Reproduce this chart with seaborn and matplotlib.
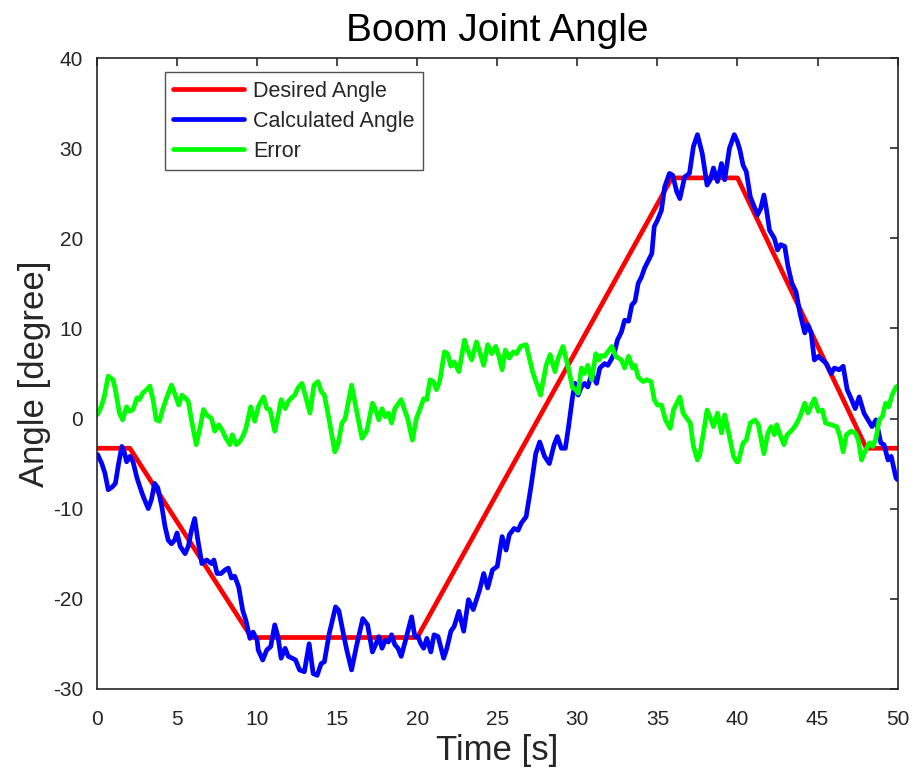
import numpy as np
import pandas as pd
import matplotlib
matplotlib.use("Agg")
import matplotlib.pyplot as plt
import seaborn as sns

# Reference trajectory (piecewise linear vertices)
desired_t = [0.0, 2.05, 9.65, 20.0, 35.9, 40.0, 48.05, 50.0]
desired_v = [-3.3, -3.3, -24.3, -24.3, 26.7, 26.7, -3.3, -3.3]

# Calculated joint angle
calc_t = [0.0, 0.04, 0.3, 0.5, 0.7, 0.95, 1.15, 1.35, 1.55, 1.7, 1.85, 2.06, 2.25, 2.5, 2.7, 2.9,
          3.2, 3.4, 3.6, 3.8, 4.05, 4.25, 4.45, 4.65, 4.85, 5.0, 5.2, 5.5, 5.7, 5.9, 6.1, 6.3,
          6.55, 6.85, 7.15, 7.3, 7.5, 7.75, 8.0, 8.2, 8.4, 8.6, 8.85, 9.1, 9.3, 9.55, 9.75, 10.0,
          10.07, 10.35, 10.6, 10.85, 11.1, 11.3, 11.5, 11.75, 11.95, 12.2, 12.4, 12.65, 12.95, 13.25,
          13.5, 13.75, 14.0, 14.2, 14.5, 14.9, 15.1, 15.4, 15.6, 15.9, 16.2, 16.6, 16.9, 17.2, 17.4,
          17.6, 17.8, 18.0, 18.2, 18.4, 18.6, 18.8, 19.0, 19.3, 19.65, 19.85, 20.05, 20.2, 20.4, 20.6,
          20.85, 21.05, 21.3, 21.65, 21.85, 22.1, 22.3, 22.6, 22.9, 23.2, 23.5, 23.9, 24.15, 24.4,
          24.7, 25.0, 25.3, 25.55, 25.75, 26.05, 26.3, 26.5, 26.8, 27.1, 27.4, 27.65, 27.95, 28.25,
          28.55, 28.75, 29.0, 29.25, 29.45, 29.7, 29.85, 30.05, 30.25, 30.45, 30.65, 30.9, 31.2,
          31.4, 31.7, 31.9, 32.1, 32.3, 32.5, 32.75, 32.95, 33.2, 33.4, 33.6, 33.8, 34.0, 34.2,
          34.45, 34.65, 34.8, 35.0, 35.25, 35.45, 35.75, 35.95, 36.2, 36.4, 36.7, 37.0, 37.25,
          37.5, 37.8, 38.1, 38.3, 38.5, 38.75, 39.0, 39.2, 39.5, 39.8, 40.0, 40.15, 40.35, 40.55,
          40.8, 41.0, 41.25, 41.45, 41.65, 41.8, 42.0, 42.3, 42.5, 42.7, 42.95, 43.15, 43.4, 43.65,
          43.9, 44.2, 44.4, 44.6, 44.8, 45.05, 45.3, 45.55, 45.85, 46.05, 46.35, 46.6, 46.85, 47.1,
          47.35, 47.6, 47.9, 48.15, 48.4, 48.65, 48.95, 49.15, 49.4, 49.6, 49.9, 50.0]
calc_v = [-4.2, -4.0, -5.0, -6.1, -7.9, -7.6, -7.2, -5.0, -3.1, -3.7, -4.8, -4.2, -4.8, -6.6, -7.7, -8.7,
          -10.0, -9.0, -7.2, -7.7, -9.8, -12.0, -13.5, -13.9, -13.5, -12.7, -14.2, -15.0, -14.2, -12.4, -11.1, -13.5,
          -16.1, -15.7, -16.1, -15.7, -17.2, -17.2, -16.8, -16.6, -17.7, -17.5, -18.7, -21.3, -22.4, -24.4, -23.7, -24.6,
          -25.7, -26.8, -25.7, -25.3, -22.9, -24.2, -26.6, -25.5, -26.4, -26.6, -26.8, -27.9, -28.1, -25.0,
          -28.3, -28.5, -27.2, -27.0, -23.9, -20.9, -21.3, -24.0, -25.7, -27.9, -25.3, -22.2, -22.9, -25.9, -25.1,
          -24.2, -25.5, -24.6, -24.8, -24.0, -25.1, -25.5, -26.4, -24.4, -22.0, -24.2, -24.2, -24.9, -25.5, -24.4,
          -25.9, -24.0, -24.2, -26.6, -25.5, -23.6, -23.1, -21.4, -23.6, -20.1, -21.2, -19.0, -17.2, -18.8,
          -16.8, -16.4, -13.1, -14.6, -12.9, -12.2, -12.4, -11.6, -10.9, -7.6, -3.9, -2.6, -4.2, -5.0,
          -2.9, -2.0, -3.3, -3.3, -0.9, 2.4, 3.9, 2.6, 3.5, 3.9, 3.5, 5.0, 3.9,
          5.6, 6.1, 5.9, 6.5, 7.2, 8.7, 9.6, 10.9, 10.8, 12.6, 13.0, 15.0, 15.7, 16.7,
          17.6, 18.3, 21.3, 22.0, 23.1, 25.7, 27.2, 27.0, 25.2, 24.4, 26.8, 27.2, 30.2,
          31.5, 29.4, 25.9, 26.5, 27.8, 26.3, 28.3, 26.5, 30.0, 31.5, 30.7, 29.8, 28.1, 27.4,
          24.6, 23.7, 22.6, 23.3, 24.8, 23.3, 20.9, 20.0, 18.7, 19.3, 19.1, 16.9, 15.0, 14.1,
          11.7, 9.5, 10.4, 9.5, 6.5, 6.9, 6.5, 6.1, 5.0, 5.6, 5.4, 5.8, 3.2, 2.2,
          1.1, 2.4, 0.6, -0.15, -0.9, -0.15, -2.7, -2.9, -4.6, -4.2, -6.6, -6.8]

# Tracking error
err_t = [0.0, 0.08, 0.3, 0.45, 0.7, 1.0, 1.15, 1.4, 1.6, 1.85, 2.05, 2.25, 2.5, 2.65, 2.85, 3.1,
         3.3, 3.5, 3.7, 3.9, 4.1, 4.35, 4.65, 4.85, 5.1, 5.3, 5.5, 5.7, 5.9, 6.2, 6.45, 6.65,
         6.85, 7.15, 7.35, 7.6, 7.85, 8.05, 8.3, 8.45, 8.7, 8.9, 9.1, 9.3, 9.6, 9.85, 10.07,
         10.4, 10.6, 10.8, 11.1, 11.3, 11.5, 11.75, 11.95, 12.15, 12.35, 12.55, 12.8, 13.0, 13.3,
         13.55, 13.8, 14.0, 14.2, 14.5, 14.85, 15.05, 15.3, 15.5, 15.9, 16.2, 16.55, 16.85, 17.2,
         17.4, 17.6, 17.8, 18.0, 18.2, 18.4, 18.6, 19.0, 19.2, 19.4, 19.7, 19.95, 20.15, 20.4,
         20.6, 20.8, 21.0, 21.2, 21.4, 21.7, 21.9, 22.1, 22.3, 22.6, 22.75, 22.95, 23.15, 23.4,
         23.7, 23.9, 24.15, 24.4, 24.65, 24.9, 25.1, 25.3, 25.5, 25.75, 26.0, 26.2, 26.45, 26.8,
         27.2, 27.7, 28.05, 28.3, 28.6, 28.8, 29.1, 29.4, 29.7, 29.85, 30.05, 30.25, 30.45, 30.65,
         30.9, 31.15, 31.35, 31.5, 31.7, 31.9, 32.15, 32.4, 32.75, 32.95, 33.2, 33.45, 33.6, 33.8,
         34.1, 34.35, 34.6, 34.8, 35.0, 35.25, 35.5, 35.8, 36.0, 36.4, 36.6, 36.85, 37.05, 37.25,
         37.5, 37.65, 37.9, 38.1, 38.35, 38.5, 38.75, 39.0, 39.2, 39.5, 39.75, 39.95, 40.05, 40.35,
         40.55, 40.8, 41.1, 41.3, 41.65, 41.9, 42.1, 42.3, 42.45, 42.7, 42.9, 43.1, 43.4, 43.65,
         43.9, 44.2, 44.4, 44.8, 45.05, 45.3, 45.5, 45.85, 46.2, 46.4, 46.6, 46.8, 47.1, 47.35,
         47.55, 47.75, 47.95, 48.25, 48.45, 48.65, 48.85, 49.05, 49.25, 49.45, 49.65, 49.9, 50.0]
err_v = [0.4, 0.6, 1.5, 2.4, 4.7, 4.3, 3.2, 0.6, -0.15, 1.3, 0.8, 1.0, 2.3, 2.1, 2.8, 3.2,
         3.6, 2.1, -0.15, -0.3, 1.0, 2.3, 3.7, 2.8, 1.5, 2.6, 2.3, 1.9, -0.15, -2.9, -0.9, 1.0,
         0.4, 0.0, -1.4, -0.7, -1.4, -2.2, -2.9, -1.8, -2.9, -2.6, -2.0, -1.1, 1.3, -0.3, 1.3,
         2.4, 1.1, 1.0, -1.4, 0.2, 2.1, 1.1, 1.9, 2.3, 2.6, 3.4, 3.9, 2.6, 0.6,
         3.7, 4.1, 3.0, 2.6, -0.15, -3.7, -2.9, -0.5, 0.0, 3.7, 1.0, -2.2, -1.4, 1.7,
         1.0, -0.15, 1.1, 0.2, 0.6, -0.5, 1.1, 2.1, 1.0, 0.0, -2.4, 0.0, 0.95, 2.2,
         2.1, 4.3, 4.1, 3.2, 4.1, 7.4, 7.2, 5.8, 6.3, 5.2, 6.7, 8.7, 7.6, 6.5,
         8.5, 7.4, 5.9, 8.2, 7.2, 8.0, 6.9, 5.4, 7.6, 6.7, 7.4, 7.2, 8.0, 8.2,
         5.2, 2.6, 5.9, 7.1, 5.2, 6.7, 8.0, 5.9, 3.4, 3.3, 2.8, 5.6, 5.0, 5.9,
         4.3, 7.2, 6.5, 7.0, 6.9, 7.4, 8.0, 6.9, 6.5, 5.6, 6.9, 5.6, 5.9, 4.6,
         4.1, 4.3, 4.1, 2.1, 1.5, 1.5, -0.15, -1.1, 0.95, 2.4, 0.6, 0.0, -0.5, -3.1,
         -4.6, -4.0, -1.3, 0.95, -0.15, -0.9, 0.6, -1.6, 0.4, -2.0, -4.2, -4.8, -4.8, -2.7,
         -2.4, -0.5, -0.15, -0.7, -3.9, -1.6, -0.9, -1.8, -0.7, -2.0, -2.9, -1.8, -1.3, -0.7,
         0.2, 1.7, 0.6, 2.2, 0.8, 0.95, -0.5, -0.7, -0.9, -2.0, -3.7, -1.8, -1.4, -1.6,
         -2.4, -4.6, -3.7, -2.7, -3.1, -2.2, -0.15, 0.2, 1.7, 1.3, 2.6, 3.5, 3.6]

x_ticks = [0, 5, 10, 15, 20, 25, 30, 35, 40, 45, 50]
y_ticks = [-30, -20, -10, 0, 10, 20, 30, 40]

sns.set_style("white")
plt.rcParams["font.family"] = ["Liberation Sans", "DejaVu Sans"]
plt.rcParams["axes.unicode_minus"] = False

axis_color = "#262626"

fig = plt.figure(figsize=(9.15, 7.74), dpi=100)
ax = fig.add_axes([0.106, 0.110, 0.875, 0.815])

lw = 3.4
sns.lineplot(x=desired_t, y=desired_v, ax=ax, color=(1, 0, 0), linewidth=lw,
             sort=False, estimator=None, label="Desired Angle")
sns.lineplot(x=calc_t, y=calc_v, ax=ax, color=(0, 0, 1), linewidth=lw,
             sort=False, estimator=None, label="Calculated Angle")
sns.lineplot(x=err_t, y=err_v, ax=ax, color=(0, 1, 0), linewidth=lw,
             sort=False, estimator=None, label="Error")

ax.set_xlim(0, 50)
ax.set_ylim(-30, 40)
ax.set_xticks(x_ticks)
ax.set_yticks(y_ticks)
ax.tick_params(axis="both", which="both", direction="in", length=6, width=1.2,
               colors=axis_color, labelsize=15, top=True, right=True)
ax.tick_params(axis="x", pad=15)
ax.tick_params(axis="y", pad=10)
for side in ax.spines.values():
    side.set_visible(True)
    side.set_color(axis_color)
    side.set_linewidth(1.2)

ax.set_title("Boom Joint Angle", fontsize=28, color="black", pad=12)
ax.set_xlabel("Time [s]", fontsize=25, color=axis_color, labelpad=4)
ax.set_ylabel("Angle [degree]", fontsize=25, color=axis_color, labelpad=1.5)

leg = ax.legend(loc="upper left", bbox_to_anchor=(0.071, 0.995), fontsize=15.5,
                frameon=True, fancybox=False, edgecolor=axis_color,
                handlelength=3.3, handletextpad=0.4, borderpad=0.4, labelspacing=0.42)
leg.get_frame().set_linewidth(1.0)
for line in leg.get_lines():
    line.set_linewidth(3.4)

fig.savefig("out.png", dpi=100)
